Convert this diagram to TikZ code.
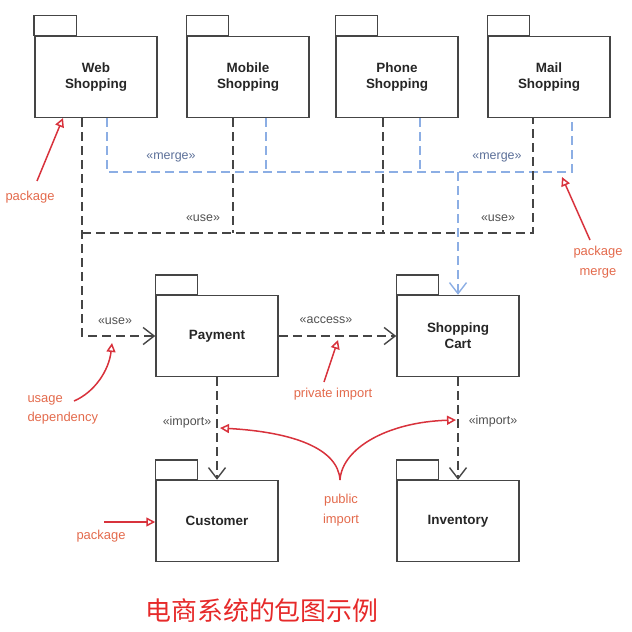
\documentclass[tikz,border=0pt]{standalone}
\usepackage{fontspec}
\setmainfont{Liberation Sans}
\newfontfamily\cjk{Noto Sans CJK SC}
\usepackage{tikz}
\usetikzlibrary{arrows.meta}
\definecolor{linegray}{HTML}{454545}
\definecolor{textgray}{HTML}{505050}
\definecolor{mergeblue}{HTML}{8CAEE4}
\definecolor{mergetext}{HTML}{5B6F98}
\definecolor{notered}{HTML}{D8323C}
\definecolor{notetext}{HTML}{E36A4C}
\definecolor{titlered}{HTML}{E62A2A}
\tikzset{
  pkg/.style={draw=linegray, line width=1.5bp, minimum width=122bp, minimum height=81bp,
    align=center, font=\fontsize{13.5}{16}\selectfont\bfseries, text=black!85},
  usedep/.style={draw=linegray, line width=1.4bp, dash pattern=on 9bp off 5bp},
  mergedep/.style={draw=mergeblue, line width=1.4bp, dash pattern=on 9bp off 5bp},
  barb/.style={-{Straight Barb[length=11bp, width=17bp, line width=1.4bp]}},
  stereo/.style={font=\fontsize{12.5}{14}\selectfont, text=textgray},
  note/.style={draw=notered, line width=1.5bp, -{Triangle[open, length=9bp, width=9bp]}},
  notelabel/.style={font=\fontsize{13}{19.5}\selectfont, text=notetext, align=center},
}
\newcommand{\pkgbox}[4]{%
  \node[pkg] (#1) at (#2,#3) {#4};
  \draw[draw=linegray, line width=1.5bp] (#1.north west) rectangle ++(42,-20);}
\begin{document}
\begin{tikzpicture}[x=1bp, y=-1bp]
        \useasboundingbox (0,0) rectangle (632,632);
        % packages
        \pkgbox{web}{96}{77}{Web\\Shopping}
        \pkgbox{mobile}{248}{77}{Mobile\\Shopping}
        \pkgbox{phone}{397}{77}{Phone\\Shopping}
        \pkgbox{mail}{549}{77}{Mail\\Shopping}
        \pkgbox{payment}{217}{336}{Payment}
        \pkgbox{cart}{458}{336}{Shopping\\Cart}
        \pkgbox{customer}{217}{521}{Customer}
        \pkgbox{inventory}{458}{521}{Inventory}
        \coordinate (usebus) at (0,233);
        \coordinate (mergebus) at (0,172);
        % merge
        \draw[mergedep] ([xshift=11bp]web.south) |- ([xshift=23bp]mail.south |- mergebus) -- ([xshift=23bp]mail.south);
        \draw[mergedep] ([xshift=18bp]mobile.south) -- ([xshift=18bp]mobile.south |- mergebus);
        \draw[mergedep] ([xshift=23bp]phone.south) -- ([xshift=23bp]phone.south |- mergebus);
        \draw[mergedep, barb, draw=mergeblue] (cart.north |- mergebus) -- (cart.north);
        % use
        \draw[usedep, barb] ([xshift=-14bp]web.south) |- (payment.west);
        \draw[usedep] ([xshift=-14bp]web.south |- usebus) -| ([xshift=-16bp]mail.south);
        \draw[usedep] ([xshift=-15bp]mobile.south) -- ([xshift=-15bp]mobile.south |- usebus);
        \draw[usedep] ([xshift=-14bp]phone.south) -- ([xshift=-14bp]phone.south |- usebus);
        \draw[usedep, barb] (payment.east) -- (cart.west);
        \draw[usedep, barb] (payment.south) -- (customer.north);
        \draw[usedep, barb] (cart.south) -- (inventory.north);
        % stereotypes
        \node[stereo, text=mergetext] (merge1) at (171,157) {«merge»};
        \node[stereo, text=mergetext] (merge2) at (497,157) {«merge»};
        \node[stereo] (use1) at (203,218) {«use»};
        \node[stereo] (use2) at (498,218) {«use»};
        \node[stereo] (use3) at (115,321) {«use»};
        \node[stereo] (access) at (326,320) {«access»};
        \node[stereo] (import1) at (187,422) {«import»};
        \node[stereo] (import2) at (493,421) {«import»};
        % notes
        \node[notelabel] (pkgnote1) at (30,197) {package};
        \coordinate (webtip) at (63,118);
        \draw[note] (37,181) -- (webtip);
        \node[notelabel] (mergenote) at (598,262) {package\\merge};
        \coordinate (mergetip) at (562,177);
        \draw[note] (590,240) -- (mergetip);
        \node[notelabel, align=left, anchor=west] (usenote) at (24,410) {usage\\dependency};
        \coordinate (usetip) at (112,343);
        \draw[note] (74,401) .. controls (95,392) and (109,370) .. (usetip);
        \node[notelabel] (privnote) at (333,394) {private import};
        \coordinate (accesstip) at (338,340);
        \draw[note] (324,382) -- (accesstip);
        \node[notelabel] (pubnote) at (341,510) {public\\import};
        \coordinate (pubfork) at (340,480);
        \coordinate (importtip1) at (220,428);
        \coordinate (importtip2) at (456,420);
        \draw[note] (pubfork) .. controls (338,448) and (292,432) .. (importtip1);
        \draw[note] (pubfork) .. controls (342,448) and (388,422) .. (importtip2);
        \node[notelabel] (pkgnote2) at (101,536) {package};
        \draw[note] ([yshift=-1bp]customer.west -| 104,0) -- ([yshift=-1bp]customer.west);
        % title
        \node[text=titlered, font=\cjk\fontsize{26}{30}\selectfont] (title) at (262,611) {电商系统的包图示例};
\end{tikzpicture}
\end{document}
